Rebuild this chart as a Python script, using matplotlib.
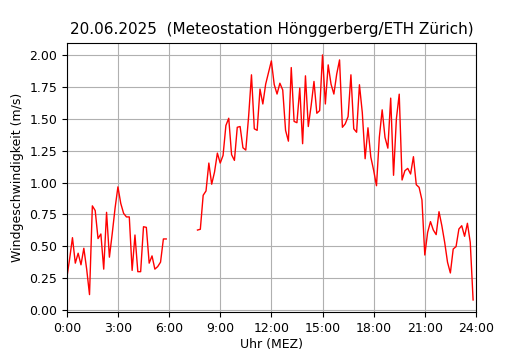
import numpy as np
import matplotlib
matplotlib.use("Agg")
import matplotlib.pyplot as plt

# 10-minute wind speed values, 20.06.2025 (nan = no data)
nan = np.nan
wind = [
    0.25, 0.40, 0.567, 0.367, 0.445, 0.354, 0.484, 0.32, 0.12, 0.817,
    0.78, 0.56, 0.596, 0.32, 0.766, 0.414, 0.60, 0.80, 0.966, 0.836,
    0.758, 0.73, 0.73, 0.31, 0.588, 0.30, 0.30, 0.653, 0.648, 0.367,
    0.424, 0.32, 0.34, 0.375, 0.557, 0.557,
    nan, nan, nan, nan, nan, nan, nan, nan, nan, nan,
    0.627, 0.633, 0.90, 0.934, 1.153, 0.987, 1.083, 1.231, 1.153, 1.213,
    1.448, 1.505, 1.219, 1.174, 1.434, 1.44, 1.273, 1.255, 1.52, 1.846,
    1.422, 1.41, 1.734, 1.617, 1.773, 1.864, 1.955, 1.77, 1.695,
    1.78, 1.727, 1.41, 1.325, 1.903, 1.48, 1.47, 1.742, 1.305, 1.838,
    1.44, 1.604, 1.794, 1.544, 1.565, 2.002, 1.617, 1.924, 1.773, 1.695,
    1.852, 1.963, 1.434, 1.461, 1.518, 1.846, 1.422, 1.395, 1.768, 1.55,
    1.187, 1.43, 1.20, 1.096, 0.975, 1.356,
    1.571, 1.354, 1.27, 1.663, 1.057, 1.50, 1.694, 1.02, 1.093, 1.111,
    1.067, 1.203, 0.983, 0.962, 0.863, 0.431, 0.609, 0.693, 0.627, 0.591,
    0.771, 0.661, 0.53, 0.374, 0.29, 0.478, 0.497, 0.635, 0.661, 0.578,
    0.68, 0.53, 0.078,
]
hours = np.arange(len(wind)) / 6.0  # time of day in hours

tick_hours = [0, 3, 6, 9, 12, 15, 18, 21, 24]
tick_labels = ["0:00", "3:00", "6:00", "9:00", "12:00", "15:00", "18:00", "21:00", "24:00"]

fig = plt.figure(figsize=(5.3, 3.5), dpi=100)
ax = fig.add_axes([0.126, 0.108, 0.772, 0.77])
ax.plot(hours, wind, color="red", linewidth=1)

ax.set_xlim(0, 24)
ax.set_xticks(tick_hours)
ax.set_xticklabels(tick_labels)
ax.set_yticks(np.arange(0, 2.01, 0.25))
ax.grid(True)

ax.set_title("20.06.2025  (Meteostation Hönggerberg/ETH Zürich)", fontsize=11)
ax.set_xlabel("Uhr (MEZ)", fontsize=9, labelpad=2)
ax.set_ylabel("Windgeschwindigkeit (m/s)", fontsize=9)
ax.tick_params(labelsize=9)

fig.savefig("out.png", dpi=100)
